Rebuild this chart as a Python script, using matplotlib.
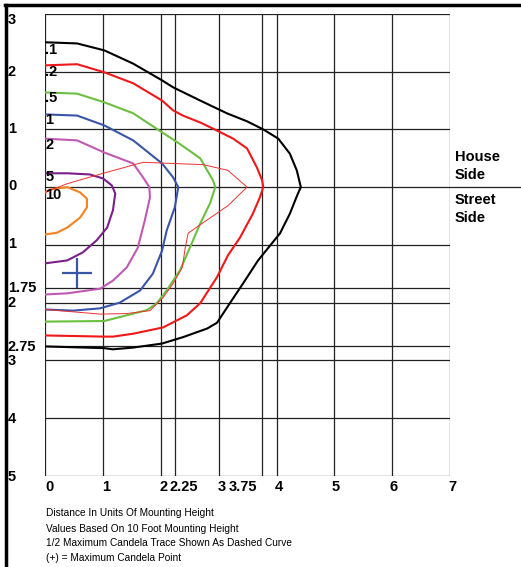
import numpy as np
import matplotlib
matplotlib.use('Agg')
import matplotlib.pyplot as plt
from matplotlib.lines import Line2D

plt.rcParams['font.family'] = ['Liberation Sans', 'DejaVu Sans']

W, H = 521, 567

# grid values (units of mounting height), y > 0 = house side, y < 0 = street side
x_grid = [0, 1, 2, 2.25, 3, 3.75, 4, 5, 6, 7]
x_labels = ['0', '1', '2', '2.25', '3', '3.75', '4', '5', '6', '7']
y_grid = [3, 2, 1, 0, -1, -1.75, -2, -2.75, -3, -4, -5]
y_labels = ['3', '2', '1', '0', '1', '1.75', '2', '2.75', '3', '4', '5']

# isofootcandle curves
fc_01_x = [0, 0.55, 1.02, 1.52, 2.02, 2.21, 2.68, 3.14, 3.49, 3.77, 4.03, 4.23, 4.35, 4.42,
           4.37, 4.23, 4.06, 3.68, 3.42, 3.20, 2.97, 2.80, 2.38, 2.02, 1.52, 1.17, 1.02, 0]
fc_01_y = [2.51, 2.49, 2.37, 2.14, 1.85, 1.73, 1.50, 1.28, 1.14, 1.00, 0.84, 0.58, 0.29, 0,
           -0.11, -0.46, -0.80, -1.27, -1.67, -2.00, -2.35, -2.45, -2.60, -2.71, -2.78, -2.81, -2.79, -2.76]

fc_02_x = [0, 0.55, 1.02, 1.52, 2.02, 2.21, 2.38, 2.68, 2.97, 3.25, 3.49, 3.66, 3.75, 3.77,
           3.71, 3.59, 3.37, 3.16, 2.97, 2.68, 2.45, 2.04, 1.52, 1.17, 1.02, 0]
fc_02_y = [2.11, 2.13, 1.99, 1.80, 1.50, 1.33, 1.24, 1.12, 0.98, 0.84, 0.67, 0.34, 0.12, 0,
           -0.18, -0.46, -0.87, -1.18, -1.56, -2.01, -2.22, -2.43, -2.54, -2.59, -2.59, -2.57]

fc_05_x = [0, 0.55, 1.02, 1.52, 2.02, 2.28, 2.68, 2.80, 2.90, 2.94,
           2.85, 2.68, 2.50, 2.33, 2.10, 1.93, 1.76, 1.41, 1.02, 0]
fc_05_y = [1.64, 1.62, 1.47, 1.28, 0.95, 0.78, 0.50, 0.29, 0.12, 0,
           -0.28, -0.63, -1.05, -1.44, -1.79, -2.01, -2.13, -2.22, -2.32, -2.33]

fc_1_x = [0, 0.55, 1.02, 1.52, 2.02, 2.21, 2.30, 2.24, 2.10, 2.02, 1.86, 1.64, 1.29, 0.95, 0.48, 0]
fc_1_y = [1.26, 1.24, 1.07, 0.81, 0.41, 0.17, 0, -0.35, -0.75, -1.10, -1.50, -1.79, -2.00, -2.10, -2.14, -2.12]

fc_2_x = [0, 0.55, 1.02, 1.52, 1.69, 1.80, 1.81, 1.72, 1.60, 1.41, 1.17, 0.95, 0.38, 0]
fc_2_y = [0.84, 0.81, 0.60, 0.41, 0.17, 0, -0.18, -0.58, -1.05, -1.39, -1.62, -1.76, -1.84, -1.86]

fc_5_x = [0, 0.38, 0.77, 1.00, 1.15, 1.21, 1.17, 1.07, 0.89, 0.65, 0.38, 0]
fc_5_y = [0.24, 0.24, 0.22, 0.15, 0.03, -0.11, -0.40, -0.70, -0.92, -1.13, -1.27, -1.32]

fc_10_x = [0, 0.08, 0.38, 0.60, 0.72, 0.72, 0.60, 0.38, 0.20, 0]
fc_10_y = [-0.09, -0.04, 0, -0.09, -0.20, -0.35, -0.53, -0.70, -0.79, -0.82]

# 1/2 maximum candela trace
half_x = [0, 0.38, 1.00, 1.69, 2.21, 2.73, 3.16, 3.49, 3.16, 2.71, 2.47, 2.42, 2.37,
          2.21, 2.04, 1.81, 1.41, 0.95, 0]
half_y = [-0.09, 0.06, 0.24, 0.43, 0.41, 0.39, 0.29, 0, -0.32, -0.63, -0.80, -1.05, -1.39,
          -1.67, -1.91, -2.14, -2.19, -2.20, -2.12]

max_cd_x, max_cd_y = 0.55, -1.48

curves = [
    (fc_01_x, fc_01_y, '#000000', '.1', 2.5),
    (fc_02_x, fc_02_y, '#f01818', '.2', 2.13),
    (fc_05_x, fc_05_y, '#6cc040', '.5', 1.64),
    (fc_1_x, fc_1_y, '#3a55a8', '1', 1.26),
    (fc_2_x, fc_2_y, '#c05ab4', '2', 0.84),
    (fc_5_x, fc_5_y, '#7a2088', '5', 0.24),
    (fc_10_x, fc_10_y, '#f5821f', '10', -0.09),
]

fig = plt.figure(figsize=(W / 100, H / 100), dpi=100)
x0, x1, ytop, ybot = 45.3, 450.0, 14.0, 475.7
ax = fig.add_axes([x0 / W, 1 - ybot / H, (x1 - x0) / W, (ybot - ytop) / H])
ax.set_xlim(0, 7)
ax.set_ylim(-5, 3)
ax.axis('off')

# grid
for xv in x_grid:
    ax.axvline(xv, color='#222222', lw=0.9, zorder=1)
for yv in y_grid:
    if yv == 0:
        ax.axhline(yv, xmin=0, xmax=(W - x0) / (x1 - x0), color='#222222', lw=0.9,
                   zorder=1, clip_on=False)
    else:
        ax.axhline(yv, color='#222222', lw=0.9, zorder=1)

# curves
for cx, cy, col, lab, ly in curves:
    ax.plot(cx, cy, color=col, lw=1.5, zorder=3, solid_joinstyle='round')
ax.plot(half_x, half_y, color='#f03030', lw=0.7, zorder=3)
ax.plot([max_cd_x], [max_cd_y], marker='+', ms=22, mew=1.6, color='#3a55a8', zorder=4)

# curve value labels
lab_y_px = [50, 72, 98, 120, 145, 177, 195]
for (cx, cy, col, lab, ly), py in zip(curves, lab_y_px):
    fig.text(45.5 / W, 1 - py / H, lab, fontsize=10.5, fontweight='bold',
             ha='left', va='center', zorder=5)

# y tick labels
y_lab_px = [20, 72, 129, 186, 244, 288, 303, 347, 361, 419, 477]
for lab, py in zip(y_labels, y_lab_px):
    fig.text(8 / W, 1 - py / H, lab, fontsize=10.5, fontweight='bold', ha='left', va='center')

# x tick labels
x_lab_px = [49, 106, 163.5, 184, 221.5, 242.5, 279, 336, 394, 452]
for lab, px in zip(x_labels, x_lab_px):
    fig.text(px / W, 1 - 487 / H, lab, fontsize=10.5, fontweight='bold', ha='center', va='center')

# side labels
for txt, py in [('House', 157), ('Side', 175), ('Street', 200), ('Side', 218)]:
    fig.text(455 / W, 1 - py / H, txt, fontsize=10.5, fontweight='bold', ha='left', va='center')

# notes
notes = ['Distance In Units Of Mounting Height',
         'Values Based On 10 Foot Mounting Height',
         '1/2 Maximum Candela Trace Shown As Dashed Curve',
         '(+) = Maximum Candela Point']
for txt, py in zip(notes, [513, 529, 543, 558]):
    fig.text(46 / W, 1 - py / H, txt, fontsize=7.3, ha='left', va='center')

# frame lines
fig.add_artist(Line2D([5 / W, 1], [1 - 5 / H, 1 - 5 / H], color='black', lw=2.5))
fig.add_artist(Line2D([6 / W, 6 / W], [0, 1 - 5 / H], color='black', lw=2.5))

fig.savefig('out.png', dpi=100)
